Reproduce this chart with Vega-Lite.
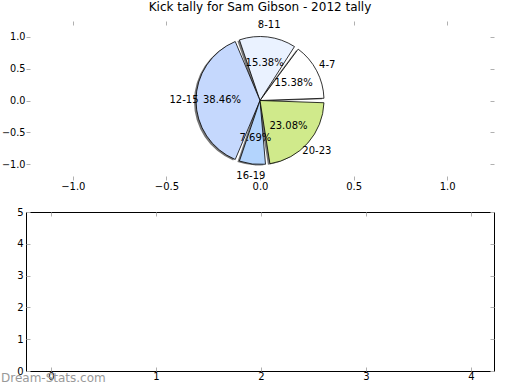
{
  "$schema": "https://vega.github.io/schema/vega-lite/v6.json",
  "padding": {"left": 0, "top": 1, "right": 0, "bottom": 0},
  "bounds": "flush",
  "config": {
    "font": "DejaVu Sans",
    "view": {"stroke": null},
    "axis": {"labelFont": "DejaVu Sans", "labelFontSize": 10, "labelColor": "black", "tickColor": "#b0b0b0", "tickWidth": 1, "grid": false, "domain": false, "title": null}
  },
  "data": {
    "values": [
      {"age_group": "4-7", "bin_start": 4, "kicks": 2, "pct_label": "15.38%"},
      {"age_group": "8-11", "bin_start": 8, "kicks": 2, "pct_label": "15.38%"},
      {"age_group": "12-15", "bin_start": 12, "kicks": 5, "pct_label": "38.46%"},
      {"age_group": "16-19", "bin_start": 16, "kicks": 1, "pct_label": "7.69%"},
      {"age_group": "20-23", "bin_start": 20, "kicks": 3, "pct_label": "23.08%"}
    ]
  },
  "spacing": 32,
  "vconcat": [
    {
      "width": 468,
      "height": 159,
      "title": {"text": "Kick tally for Sam Gibson - 2012 tally", "fontSize": 12, "fontWeight": "normal", "color": "black", "offset": 6, "frame": "group"},
      "layer": [
        {
          "mark": {"type": "point", "opacity": 0},
          "encoding": {
            "x": {"datum": 0, "type": "quantitative", "scale": {"domain": [-1.25, 1.25], "nice": false, "zero": false},
                  "axis": {"orient": "bottom", "values": [-1, -0.5, 0, 0.5, 1], "format": ".1f", "tickSize": -4, "labelPadding": 5}},
            "y": {"datum": 0, "type": "quantitative", "scale": {"domain": [-1.25, 1.25], "nice": false, "zero": false},
                  "axis": {"orient": "left", "values": [-1, -0.5, 0, 0.5, 1], "format": ".1f", "tickSize": -4, "labelPadding": 5, "labelFontSize": 9.7}}
          }
        },
        {
          "mark": {"type": "point", "opacity": 0},
          "encoding": {
            "x": {"datum": 0, "type": "quantitative", "axis": {"orient": "top", "values": [-1, -0.5, 0, 0.5, 1], "labels": false, "tickSize": -4}},
            "y": {"datum": 0, "type": "quantitative", "axis": {"orient": "right", "values": [-1, -0.5, 0, 0.5, 1], "labels": false, "tickSize": -4}}
          }
        },
        {
          "encoding": {
            "theta": {"field": "kicks", "type": "quantitative", "stack": true, "scale": {"range": [1.5708, 7.854]}},
            "order": {"field": "bin_start", "sort": "descending"}
          },
          "layer": [
            {"mark": {"type": "arc", "outerRadius": 64, "padAngle": 0.07, "fill": "#777777", "xOffset": -2, "yOffset": 1}},
            {
              "mark": {"type": "arc", "outerRadius": 64, "padAngle": 0.07, "stroke": "black", "strokeWidth": 0.8},
              "encoding": {
                "color": {"field": "age_group", "type": "nominal", "legend": null,
                          "scale": {"domain": ["4-7", "8-11", "12-15", "16-19", "20-23"], "range": ["#ffffff", "#eaf2ff", "#c5d8fd", "#b3d4fd", "#d0ea8b"]}}
              }
            },
            {"mark": {"type": "text", "radius": 38, "fontSize": 10, "color": "black"}, "encoding": {"text": {"field": "pct_label"}}},
            {"mark": {"type": "text", "radius": 76, "fontSize": 10, "color": "black"}, "encoding": {"text": {"field": "age_group"}}}
          ]
        }
      ],
      "resolve": {"axis": {"x": "independent", "y": "independent"}}
    },
    {
      "width": 468,
      "height": 159,
      "view": {"stroke": "black", "strokeWidth": 1},
      "title": {"text": "Dream-Stats.com", "orient": "bottom", "anchor": "start", "frame": "group", "fontSize": 12, "fontWeight": "normal", "color": "#999999", "offset": -8, "dx": -25},
      "layer": [
        {
          "mark": {"type": "point", "opacity": 0},
          "encoding": {
            "x": {"datum": 0, "type": "quantitative", "scale": {"domain": [-0.238, 4.219], "nice": false, "zero": false},
                  "axis": {"orient": "bottom", "values": [0, 1, 2, 3, 4], "format": "d", "tickSize": -4, "labelPadding": 4}},
            "y": {"datum": 0, "type": "quantitative", "scale": {"domain": [0, 5], "nice": false},
                  "axis": {"orient": "left", "values": [0, 1, 2, 3, 4, 5], "format": "d", "tickSize": -4, "labelPadding": 7}}
          }
        },
        {
          "mark": {"type": "point", "opacity": 0},
          "encoding": {
            "x": {"datum": 0, "type": "quantitative", "axis": {"orient": "top", "values": [0, 1, 2, 3, 4], "labels": false, "tickSize": -4}},
            "y": {"datum": 0, "type": "quantitative", "axis": {"orient": "right", "values": [0, 1, 2, 3, 4, 5], "labels": false, "tickSize": -4}}
          }
        }
      ],
      "resolve": {"axis": {"x": "independent", "y": "independent"}}
    }
  ]
}
